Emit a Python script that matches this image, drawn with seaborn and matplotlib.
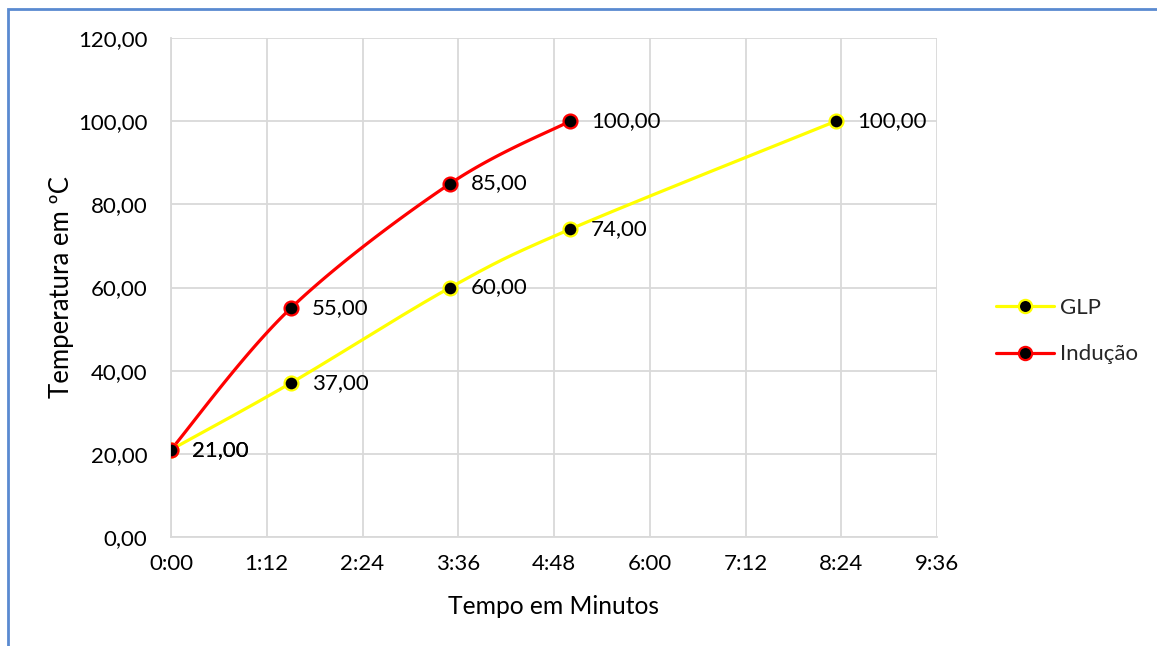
import numpy as np
import pandas as pd
import seaborn as sns
import matplotlib.pyplot as plt
from matplotlib.lines import Line2D
from matplotlib.patches import Rectangle
from matplotlib.ticker import FuncFormatter, MultipleLocator

# Time in seconds, temperature in degrees C
glp_time = [0, 90, 210, 300, 500]
glp_temp = [21.0, 37.0, 60.0, 74.0, 100.0]
ind_time = [0, 90, 210, 300]
ind_temp = [21.0, 55.0, 85.0, 100.0]

series_names = ['GLP', 'Indução']
series_colors = ['#ffff00', '#ff0000']


def smooth_curve(xs, ys, sx, sy, n=40):
    # Excel-like smoothed line (Catmull-Rom through the points, in screen scale)
    p = np.column_stack([np.array(xs) * sx, np.array(ys) * sy]).astype(float)
    p = np.vstack([p[0], p, p[-1]])
    out = []
    for i in range(1, len(p) - 2):
        p0, p1, p2, p3 = p[i - 1], p[i], p[i + 1], p[i + 2]
        c1 = p1 + (p2 - p0) / 6
        c2 = p2 - (p3 - p1) / 6
        t = np.linspace(0, 1, n)[:, None]
        seg = ((1 - t) ** 3) * p1 + 3 * ((1 - t) ** 2) * t * c1 + 3 * (1 - t) * t ** 2 * c2 + t ** 3 * p2
        out.append(seg)
    out = np.vstack(out)
    return out[:, 0] / sx, out[:, 1] / sy


sns.set_theme(style='whitegrid')
plt.rcParams['font.family'] = ['Lato', 'DejaVu Sans']

fig = plt.figure(figsize=(11.57, 6.46), dpi=100)
ax = fig.add_axes([171 / 1157, 109 / 646, 766 / 1157, 499 / 646])

sx = 766 / 576
sy = 499 / 120

data = [(glp_time, glp_temp), (ind_time, ind_temp)]
for (xs, ys), name, color in zip(data, series_names, series_colors):
    cx, cy = smooth_curve(xs, ys, sx, sy)
    df_curve = pd.DataFrame({'t': cx, 'v': cy})
    sns.lineplot(data=df_curve, x='t', y='v', sort=False, color=color, linewidth=2.3, ax=ax, zorder=3)
    df_pts = pd.DataFrame({'t': xs, 'v': ys})
    sns.scatterplot(data=df_pts, x='t', y='v', color='black', edgecolor=color, linewidth=1.6,
                    s=100, ax=ax, zorder=4)
    for x, y in zip(xs, ys):
        ax.annotate(f'{y:.2f}'.replace('.', ','), (x, y), xytext=(15, 0), textcoords='offset points',
                    ha='left', va='center', fontsize=16, color='black', zorder=5)

ax.set_xlim(0, 576)
ax.set_ylim(0, 120)
ax.xaxis.set_major_locator(MultipleLocator(72))
ax.yaxis.set_major_locator(MultipleLocator(20))
ax.xaxis.set_major_formatter(FuncFormatter(lambda v, p: f'{int(v) // 60}:{int(v) % 60:02d}'))
ax.yaxis.set_major_formatter(FuncFormatter(lambda v, p: f'{v:.2f}'.replace('.', ',')))
ax.tick_params(axis='both', labelsize=16, length=0, colors='black')
ax.tick_params(axis='y', pad=17)
ax.tick_params(axis='x', pad=12)
ax.grid(True, color='#d9d9d9', linewidth=1.3)
ax.set_facecolor('white')
for side in ['top', 'right']:
    ax.spines[side].set_visible(False)
for side in ['left', 'bottom']:
    ax.spines[side].set_color('#d9d9d9')
    ax.spines[side].set_linewidth(1.3)

ax.set_xlabel('Tempo em Minutos', fontsize=17.7, color='black', labelpad=15)
ax.set_ylabel('Temperatura em ºC', fontsize=18.5, color='black', labelpad=3)

handles = [Line2D([0], [0], color=c, linewidth=2.3, marker='o', markersize=9.5,
                  markerfacecolor='black', markeredgecolor=c, markeredgewidth=1.6)
           for c in series_colors]
fig.legend(handles, series_names, loc='center left', bbox_to_anchor=(976 / 1157, (646 - 331) / 646),
           frameon=False, fontsize=16, handlelength=2.6, labelspacing=1.2, handletextpad=0.3)

fig.patches.append(Rectangle((8 / 1157, -0.1), 1.2, (646 - 8.5) / 646 + 0.1, transform=fig.transFigure,
                             fill=False, edgecolor='#5a8ad0', linewidth=2))

fig.savefig('out.png', dpi=100)
